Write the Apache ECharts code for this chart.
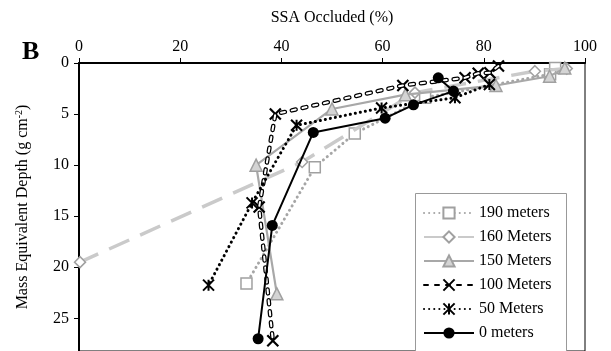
<!DOCTYPE html>
<html>
<head>
<meta charset="utf-8">
<script src="https://cdn.jsdelivr.net/npm/echarts@6/dist/echarts.min.js"></script>
<style>
  html, body { margin: 0; padding: 0; background: #fff; }
  #chart { width: 611px; height: 351px; }
</style>
</head>
<body>
<div id="chart"></div>
<script>
// SSA occluded (%) against mass equivalent depth (g cm-2)
const ssa190 = [94.1, 93.1, 68.4, 54.5, 46.6, 33.1]
const depth190 = [0.5, 1.1, 3.4, 6.9, 10.2, 21.6]

const ssa160 = [96.4, 90.1, 66.4, 44.1, 0.2]
const depth160 = [0.55, 0.8, 2.9, 9.7, 19.5]

const ssa150 = [96.0, 93.0, 82.4, 64.5, 50.0, 35.0, 39.1]
const depth150 = [0.5, 1.3, 2.2, 3.1, 4.5, 10.0, 22.6]

const ssa100 = [82.9, 81.2, 78.9, 76.3, 64.0, 38.8, 35.6, 38.3]
const depth100 = [0.3, 0.95, 1.0, 1.45, 2.2, 5.0, 14.1, 27.2]

const ssa50 = [81.1, 74.3, 59.8, 43.0, 34.2, 25.6]
const depth50 = [2.1, 3.4, 4.4, 6.1, 13.7, 21.75]

const ssa0 = [71.0, 74.0, 66.1, 60.5, 46.3, 38.2, 35.4]
const depth0 = [1.45, 2.75, 4.1, 5.4, 6.8, 15.9, 27.0]

const xTicks = [0, 20, 40, 60, 80, 100]
const yTicks = [0, 5, 10, 15, 20, 25]

const FONT = 'Liberation Serif'
const pairs = (xs, ys) => xs.map((v, i) => [v, ys[i]])

const chart = echarts.init(document.getElementById('chart'))

const option = {
  animation: false,
  title: {
    text: 'B',
    left: 17,
    top: 34,
    textStyle: { fontFamily: FONT, fontSize: 26, fontWeight: 'bold', color: '#000' }
  },
  grid: {
    left: 79,
    right: 26,
    top: 63,
    bottom: -2,
    show: true,
    borderColor: '#000',
    borderWidth: 1
  },
  // legend frame runs off the bottom edge like in the figure
  graphic: [
    {
      type: 'rect',
      left: 415,
      top: 193,
      shape: { width: 151, height: 175 },
      style: { fill: '#fff', stroke: '#999', lineWidth: 1 },
      z: 90
    }
  ],
  legend: {
    data: ['190 meters', '160 Meters', '150 Meters', '100 Meters', '50 Meters', '0 meters'],
    orient: 'vertical',
    left: 423,
    top: 205,
    padding: 0,
    itemWidth: 50,
    itemHeight: 14,
    itemGap: 8,
    selectedMode: false,
    z: 100,
    textStyle: { fontFamily: FONT, fontSize: 16, color: '#000', lineHeight: 16 }
  },
  xAxis: {
    type: 'value',
    position: 'top',
    min: 0,
    max: 100,
    interval: 20,
    name: 'SSA Occluded (%)',
    nameLocation: 'middle',
    nameGap: 37,
    nameTextStyle: { fontFamily: FONT, fontSize: 16, color: '#000' },
    axisLine: { show: true, lineStyle: { color: '#000', width: 2 } },
    axisTick: { show: true, length: 5, lineStyle: { color: '#000', width: 1 } },
    axisLabel: {
      margin: 8,
      fontFamily: FONT,
      fontSize: 16,
      color: '#000',
      formatter: v => (xTicks.includes(v) ? String(v) : '')
    },
    splitLine: { show: false }
  },
  yAxis: {
    type: 'value',
    inverse: true,
    min: 0,
    max: 28.2,
    interval: 5,
    name: 'Mass Equivalent Depth (g cm{sup|-2})',
    nameLocation: 'middle',
    nameGap: 47,
    nameRotate: 90,
    nameTextStyle: {
      fontFamily: FONT,
      fontSize: 16,
      color: '#000',
      rich: {
        sup: { fontFamily: FONT, fontSize: 10, color: '#000', padding: [0, 0, 8, 0] }
      }
    },
    axisLine: { show: true, lineStyle: { color: '#000', width: 2 } },
    axisTick: { show: true, length: 5, lineStyle: { color: '#000', width: 1 } },
    axisLabel: {
      margin: 10,
      fontFamily: FONT,
      fontSize: 16,
      color: '#000',
      formatter: v => (yTicks.includes(v) ? String(v) : '')
    },
    splitLine: { show: false }
  },
  series: [
    {
      name: '190 meters',
      type: 'line',
      data: pairs(ssa190, depth190),
      symbol: 'rect',
      symbolSize: 11,
      lineStyle: { color: '#a6a6a6', width: 3, type: [0.1, 5], cap: 'round' },
      itemStyle: { color: '#fff', borderColor: '#a0a0a0', borderWidth: 1.5 },
      z: 2
    },
    {
      name: '160 Meters',
      type: 'line',
      data: pairs(ssa160, depth160),
      symbol: 'diamond',
      symbolSize: 11,
      lineStyle: { color: '#cacaca', width: 3.5, type: [22, 12] },
      itemStyle: { color: '#fff', borderColor: '#a0a0a0', borderWidth: 1.5 },
      z: 3
    },
    {
      name: '150 Meters',
      type: 'line',
      data: pairs(ssa150, depth150),
      symbol: 'triangle',
      symbolSize: 12,
      lineStyle: { color: '#a8a8a8', width: 2.2 },
      itemStyle: { color: '#d4d4d4', borderColor: '#a0a0a0', borderWidth: 1.5 },
      z: 4
    },
    {
      name: '100 Meters',
      type: 'line',
      data: pairs(ssa100, depth100),
      symbol: 'path://M0,0L10,10M10,0L0,10',
      symbolSize: 11,
      lineStyle: { color: '#000', width: 4.5, type: [4, 7], cap: 'round' },
      itemStyle: { color: 'transparent', borderColor: '#000', borderWidth: 2.2 },
      z: 5
    },
    {
      // hollow centre of the 100 m dashes, same dash pattern so it stays in phase
      name: '100 inner',
      type: 'line',
      data: pairs(ssa100, depth100),
      symbol: 'none',
      silent: true,
      lineStyle: { color: '#fff', width: 2, type: [4, 7], cap: 'round' },
      z: 6
    },
    {
      name: '50 Meters',
      type: 'line',
      data: pairs(ssa50, depth50),
      symbol: 'path://M0,0L10,10M10,0L0,10M5,0L5,10',
      symbolSize: 11,
      lineStyle: { color: '#000', width: 3, type: [0.1, 5], cap: 'round' },
      itemStyle: { color: 'transparent', borderColor: '#000', borderWidth: 2 },
      z: 7
    },
    {
      name: '0 meters',
      type: 'line',
      data: pairs(ssa0, depth0),
      symbol: 'circle',
      symbolSize: 11,
      lineStyle: { color: '#000', width: 2 },
      itemStyle: { color: '#000' },
      z: 8
    }
  ]
}

chart.setOption(option)
</script>
</body>
</html>
